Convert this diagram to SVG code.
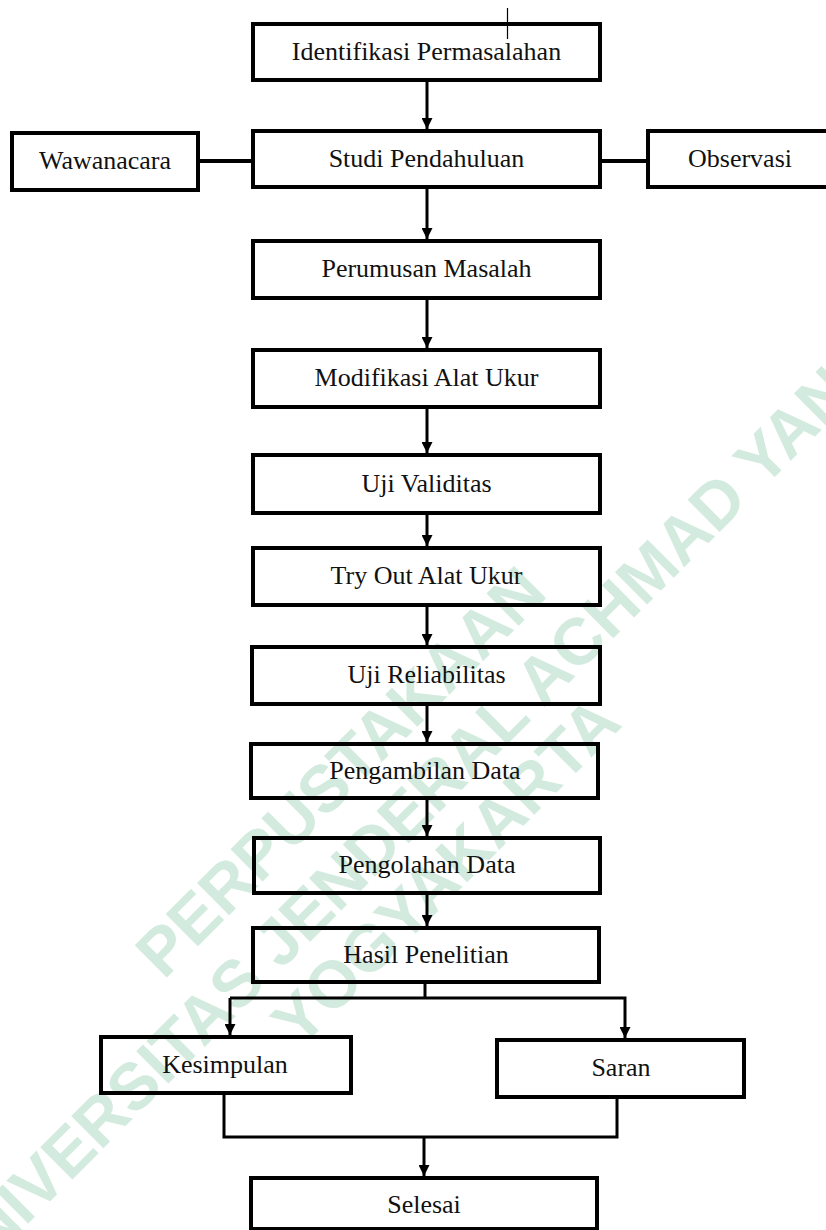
<svg xmlns="http://www.w3.org/2000/svg" width="826" height="1230" viewBox="0 0 826 1230">
<style>
.box{fill:none;stroke:#000;stroke-width:4}
.lbl{font-family:"Liberation Serif","Times New Roman",serif;font-size:26px;fill:#111;text-anchor:middle}
.ln{fill:none;stroke:#000;stroke-width:3}
.arr{fill:none;stroke:#000;stroke-width:3;marker-end:url(#ah)}
.wm{font-family:"Liberation Sans",Arial,sans-serif;font-weight:bold;font-size:66px;fill:#d3ebde;text-anchor:middle}
</style>
<defs>
<marker id="ah" markerUnits="userSpaceOnUse" viewBox="0 0 10 10" refX="10" refY="5" markerWidth="11" markerHeight="11" orient="auto">
<path d="M0,0 L10,5 L0,10 z" fill="#000"/>
</marker>
</defs>
<rect width="826" height="1230" fill="#fff"/>
<g id="watermark" transform="rotate(-45)">
<text class="wm" x="-305" y="809">PERPUSTAKAAN</text>
<text class="wm" x="-300" y="885">UNIVERSITAS JENDERAL ACHMAD YANI</text>
<text class="wm" x="-301" y="954">YOGYAKARTA</text>
</g>
<g id="connectors">
<line x1="507.5" y1="8" x2="507.5" y2="39" stroke="#000" stroke-width="1.2"/>
<line class="arr" x1="427" y1="82" x2="427" y2="129"/>
<line class="ln" x1="198" y1="161" x2="253" y2="161" style="stroke-width:4"/>
<line class="ln" x1="600" y1="161" x2="648" y2="161" style="stroke-width:4"/>
<line class="arr" x1="427" y1="189" x2="427" y2="239"/>
<line class="arr" x1="427" y1="300" x2="427" y2="348"/>
<line class="arr" x1="427" y1="409" x2="427" y2="453"/>
<line class="arr" x1="427" y1="515" x2="427" y2="546"/>
<line class="arr" x1="427" y1="607" x2="427" y2="645"/>
<line class="arr" x1="427" y1="706" x2="427" y2="742"/>
<line class="arr" x1="427" y1="800" x2="427" y2="836"/>
<line class="arr" x1="427" y1="895" x2="427" y2="926"/>
<polyline class="ln" points="425,984 425,998"/>
<polyline class="arr" points="230,998 625,998 625,1038"/>
<line class="arr" x1="230" y1="998" x2="230" y2="1035"/>
<polyline class="ln" points="224,1095 224,1137 617,1137 617,1099"/>
<line class="arr" x1="424" y1="1137" x2="424" y2="1176"/>
</g>
<g id="n1"><rect class="box" x="253" y="24" width="347" height="56"/><text class="lbl" x="426.5" y="60">Identifikasi Permasalahan</text></g>
<g id="n2"><rect class="box" x="253" y="131" width="347" height="56"/><text class="lbl" x="426.5" y="167">Studi Pendahuluan</text></g>
<g id="n2a"><rect class="box" x="12" y="133" width="186" height="57"/><text class="lbl" x="105" y="169">Wawanacara</text></g>
<g id="n2b"><rect class="box" x="648" y="131" width="180" height="56"/><text class="lbl" x="740" y="167">Observasi</text></g>
<g id="n3"><rect class="box" x="253" y="241" width="347" height="57"/><text class="lbl" x="426.5" y="277">Perumusan Masalah</text></g>
<g id="n4"><rect class="box" x="253" y="350" width="347" height="57"/><text class="lbl" x="426.5" y="386">Modifikasi Alat Ukur</text></g>
<g id="n5"><rect class="box" x="253" y="455" width="347" height="58"/><text class="lbl" x="426.5" y="492">Uji Validitas</text></g>
<g id="n6"><rect class="box" x="253" y="548" width="347" height="57"/><text class="lbl" x="426.5" y="584">Try Out Alat Ukur</text></g>
<g id="n7"><rect class="box" x="252" y="647" width="348" height="57"/><text class="lbl" x="426.5" y="683">Uji Reliabilitas</text></g>
<g id="n8"><rect class="box" x="251" y="744" width="347" height="54"/><text class="lbl" x="425" y="779">Pengambilan Data</text></g>
<g id="n9"><rect class="box" x="254" y="838" width="346" height="55"/><text class="lbl" x="427" y="873">Pengolahan Data</text></g>
<g id="n10"><rect class="box" x="253" y="928" width="346" height="54"/><text class="lbl" x="426" y="963">Hasil Penelitian</text></g>
<g id="n11"><rect class="box" x="101" y="1037" width="250" height="56"/><text class="lbl" x="225" y="1073">Kesimpulan</text></g>
<g id="n12"><rect class="box" x="497" y="1040" width="247" height="57"/><text class="lbl" x="621" y="1076">Saran</text></g>
<g id="n13"><rect class="box" x="251" y="1178" width="346" height="51"/><text class="lbl" x="424" y="1213">Selesai</text></g>
</svg>
